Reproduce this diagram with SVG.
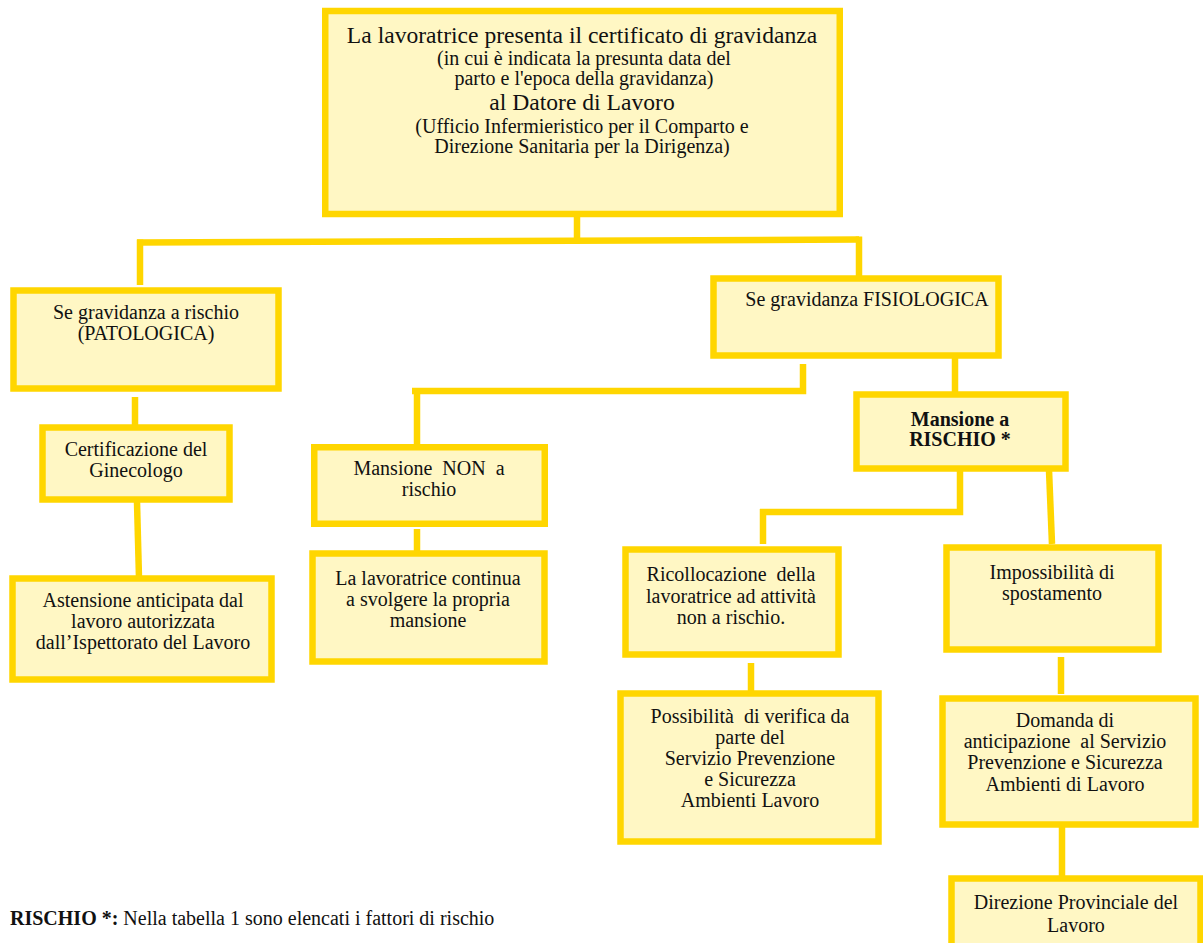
<svg xmlns="http://www.w3.org/2000/svg" width="1203" height="943" viewBox="0 0 1203 943">
<style>
.box{fill:#FFF7C4;stroke:#FFD600;stroke-width:6.5}
.con{fill:none;stroke:#FFD600;stroke-width:6.5;stroke-linecap:butt}
text{font-family:"Liberation Serif","Times New Roman",serif;fill:#111;text-anchor:middle}
.t{font-size:20px}
.big{font-size:23.6px}
.b{font-weight:bold}
</style>
<rect width="1203" height="943" fill="#fff"/>
<g id="connectors">
<path class="con" d="M577,208 V240"/>
<path class="con" d="M137,242.5 L859,239.5"/>
<path class="con" d="M140,239.5 V285"/>
<path class="con" d="M859,236.5 V276"/>
<path class="con" d="M135,397 V425"/>
<path class="con" d="M137,502 L139,578"/>
<path class="con" d="M803,364 V391 H412"/>
<path class="con" d="M417,388 V456"/>
<path class="con" d="M417,529 V561"/>
<path class="con" d="M955,357 V395"/>
<path class="con" d="M960,470 V512 H760"/>
<path class="con" d="M763,509 V544"/>
<path class="con" d="M1049,470 L1052,544"/>
<path class="con" d="M751,663 V693"/>
<path class="con" d="M1061,657 V694"/>
<path class="con" d="M1062,826 V879"/>
</g>
<g id="n-top">
<rect class="box" x="325.25" y="11" width="514.5" height="203"/>
<text class="big" x="582" y="43">La lavoratrice presenta il certificato di gravidanza</text>
<text class="t" x="584" y="65">(in cui è indicata la presunta data del</text>
<text class="t" x="584" y="85">parto e l'epoca della gravidanza)</text>
<text class="big" x="582" y="110">al Datore di Lavoro</text>
<text class="t" x="582" y="133">(Ufficio Infermieristico per il Comparto e</text>
<text class="t" x="582" y="153">Direzione Sanitaria per la Dirigenza)</text>
</g>
<g id="n-patologica">
<rect class="box" x="13.5" y="290.5" width="265" height="98"/>
<text class="t" x="146" y="319">Se gravidanza a rischio</text>
<text class="t" x="146" y="340">(PATOLOGICA)</text>
</g>
<g id="n-fisiologica">
<rect class="box" x="713.5" y="278.5" width="285" height="77"/>
<text class="t" x="867" y="306">Se gravidanza FISIOLOGICA</text>
</g>
<g id="n-ginecologo">
<rect class="box" x="42.5" y="427.5" width="187" height="72"/>
<text class="t" x="136" y="456">Certificazione del</text>
<text class="t" x="136" y="477">Ginecologo</text>
</g>
<g id="n-astensione">
<rect class="box" x="12.5" y="578.5" width="259" height="101"/>
<text class="t" x="143" y="607">Astensione anticipata dal</text>
<text class="t" x="143" y="628">lavoro autorizzata</text>
<text class="t" x="143" y="649">dall’Ispettorato del Lavoro</text>
</g>
<g id="n-nonrischio">
<rect class="box" x="314.25" y="447.25" width="230.5" height="76.5"/>
<text class="t" x="429" y="475" xml:space="preserve">Mansione  NON  a</text>
<text class="t" x="429" y="496">rischio</text>
</g>
<g id="n-continua">
<rect class="box" x="312.5" y="553.5" width="232" height="108"/>
<text class="t" x="428" y="585">La lavoratrice continua</text>
<text class="t" x="428" y="606">a svolgere la propria</text>
<text class="t" x="428" y="627">mansione</text>
</g>
<g id="n-rischio">
<rect class="box" x="856.5" y="394.5" width="209" height="74"/>
<text class="t b" x="960" y="426">Mansione a</text>
<text class="t b" x="960" y="446">RISCHIO *</text>
</g>
<g id="n-ricollocazione">
<rect class="box" x="625.5" y="549.5" width="213" height="105"/>
<text class="t" x="731" y="581" xml:space="preserve">Ricollocazione  della</text>
<text class="t" x="731" y="603">lavoratrice ad attività</text>
<text class="t" x="731" y="624">non a rischio.</text>
</g>
<g id="n-impossibilita">
<rect class="box" x="946.5" y="547.5" width="212" height="102"/>
<text class="t" x="1052" y="579">Impossibilità di</text>
<text class="t" x="1052" y="600">spostamento</text>
</g>
<g id="n-verifica">
<rect class="box" x="620.5" y="693.5" width="258" height="148"/>
<text class="t" x="750" y="723" xml:space="preserve">Possibilità  di verifica da</text>
<text class="t" x="750" y="744">parte del</text>
<text class="t" x="750" y="765">Servizio Prevenzione</text>
<text class="t" x="750" y="786">e Sicurezza</text>
<text class="t" x="750" y="807">Ambienti Lavoro</text>
</g>
<g id="n-domanda">
<rect class="box" x="942.5" y="698.5" width="253" height="126"/>
<text class="t" x="1065" y="727">Domanda di</text>
<text class="t" x="1065" y="748" xml:space="preserve">anticipazione  al Servizio</text>
<text class="t" x="1065" y="769">Prevenzione e Sicurezza</text>
<text class="t" x="1065" y="791">Ambienti di Lavoro</text>
</g>
<g id="n-direzione">
<rect class="box" x="951.5" y="878.5" width="249" height="80"/>
<text class="t" x="1076" y="909">Direzione Provinciale del</text>
<text class="t" x="1076" y="932">Lavoro</text>
</g>
<g id="footer">
<text x="10" y="925" style="font-size:20px;text-anchor:start"><tspan font-weight="bold">RISCHIO *:</tspan> Nella tabella 1 sono elencati i fattori di rischio</text>
</g>
</svg>
